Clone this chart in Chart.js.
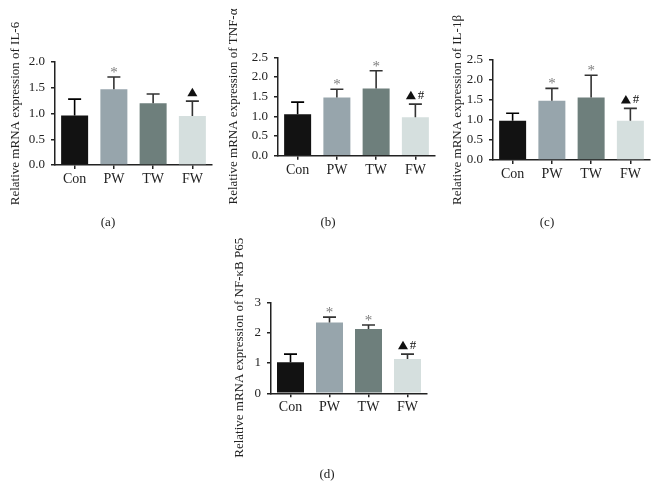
<!DOCTYPE html>
<html>
<head>
<meta charset="utf-8">
<script src="https://cdn.jsdelivr.net/npm/chart.js@4.4.1/dist/chart.umd.min.js"></script>
<style>
  body { margin: 0; background: #fff; width: 659px; height: 501px; position: relative; overflow: hidden; }
  canvas { position: absolute; }
  .tag { position: absolute; font: 13px "Liberation Serif", serif; color: #222; transform: translate(-50%, -50%); }
</style>
</head>
<body>
<canvas id="chartA"></canvas>
<canvas id="chartB"></canvas>
<canvas id="chartC"></canvas>
<canvas id="chartD"></canvas>
<div class="tag" style="left:108px;top:222px">(a)</div>
<div class="tag" style="left:328px;top:222px">(b)</div>
<div class="tag" style="left:547px;top:222px">(c)</div>
<div class="tag" style="left:327px;top:474px">(d)</div>
<script>
const categories = ['Con', 'PW', 'TW', 'FW'];

const il6Means = [0.96, 1.47, 1.20, 0.95];
const il6Sd = [0.32, 0.24, 0.18, 0.29];
const il6Marks = ['', '*', '', '▲'];
const il6Ticks = [0, 0.5, 1.0, 1.5, 2.0];

const tnfMeans = [1.05, 1.48, 1.71, 0.98];
const tnfSd = [0.31, 0.21, 0.45, 0.33];
const tnfMarks = ['', '*', '*', '▲#'];
const tnfTicks = [0, 0.5, 1.0, 1.5, 2.0, 2.5];

const il1bMeans = [0.98, 1.48, 1.56, 0.98];
const il1bSd = [0.19, 0.31, 0.56, 0.31];
const il1bMarks = ['', '*', '*', '▲#'];
const il1bTicks = [0, 0.5, 1.0, 1.5, 2.0, 2.5];

const nfkbMeans = [1.02, 2.33, 2.12, 1.13];
const nfkbSd = [0.27, 0.18, 0.13, 0.16];
const nfkbMarks = ['', '*', '*', '▲#'];
const nfkbTicks = [0, 1, 2, 3];

const barColors = ['#121212', '#97a5ac', '#6e7f7c', '#d5dfde'];
const errColors = ['#000000', '#333333', '#333333', '#333333'];
const inkColor = '#222222';
const serif = 'Liberation Serif';

const titleFont = { family: serif, size: 13 };
const halfTitle = (titleFont.size * 1.2) / 2;

const drawMark = (ctx, mark, x, top) => {
  if (!mark) return;
  if (mark === '*') {
    ctx.fillStyle = '#7d7d7d';
    ctx.font = `15px "${serif}"`;
    ctx.textAlign = 'center';
    ctx.textBaseline = 'alphabetic';
    ctx.fillText('*', x, top);
    return;
  }
  const hasHash = mark.includes('#');
  const cy = top - 9;
  const tx = hasHash ? x - 4.5 : x;
  ctx.fillStyle = '#111';
  ctx.beginPath();
  ctx.moveTo(tx, cy - 4.5);
  ctx.lineTo(tx + 5, cy + 4);
  ctx.lineTo(tx - 5, cy + 4);
  ctx.closePath();
  ctx.fill();
  if (hasHash) {
    ctx.font = `13px "${serif}"`;
    ctx.textAlign = 'center';
    ctx.textBaseline = 'middle';
    ctx.fillText('#', x + 5.5, cy);
  }
};

const errorBars = {
  id: 'errorBars',
  afterDatasetsDraw(chart, args, opts) {
    const { ctx } = chart;
    const yScale = chart.scales.y;
    const meta = chart.getDatasetMeta(0);
    const means = chart.data.datasets[0].data;
    meta.data.forEach((bar, i) => {
      const top = yScale.getPixelForValue(means[i] + opts.sd[i]);
      ctx.save();
      ctx.strokeStyle = errColors[i];
      ctx.lineWidth = 1.6;
      ctx.beginPath();
      ctx.moveTo(bar.x, bar.y);
      ctx.lineTo(bar.x, top);
      ctx.moveTo(bar.x - 6.5, top);
      ctx.lineTo(bar.x + 6.5, top);
      ctx.stroke();
      drawMark(ctx, opts.marks[i], bar.x, top);
      ctx.restore();
    });
  },
};

// chart-area edges in page pixels
const panels = [
  { id: 'chartA', title: 'Relative mRNA expression of IL-6', means: il6Means, sd: il6Sd, marks: il6Marks, ticks: il6Ticks, decimals: 1,
    left: 55, right: 212, top: 62, bottom: 165, titleX: 15.5 },
  { id: 'chartB', title: 'Relative mRNA expression of TNF-α', means: tnfMeans, sd: tnfSd, marks: tnfMarks, ticks: tnfTicks, decimals: 1,
    left: 278, right: 435, top: 57.3, bottom: 155.7, titleX: 234 },
  { id: 'chartC', title: 'Relative mRNA expression of IL-1β', means: il1bMeans, sd: il1bSd, marks: il1bMarks, ticks: il1bTicks, decimals: 1,
    left: 493, right: 650, top: 60, bottom: 160, titleX: 458 },
  { id: 'chartD', title: 'Relative mRNA expression of NF-κB P65', means: nfkbMeans, sd: nfkbSd, marks: nfkbMarks, ticks: nfkbTicks, decimals: 0,
    left: 271, right: 427, top: 302.3, bottom: 393.3, titleX: 240 },
];

const makePanel = (p) => {
  const canvas = document.getElementById(p.id);
  const scaleLeft = p.titleX - halfTitle;
  const canvasLeft = Math.floor(scaleLeft);
  const canvasTop = Math.max(0, Math.floor(p.top - 80));
  const width = Math.ceil(p.right + 8 - canvasLeft);
  const height = Math.ceil(p.bottom + 80 - canvasTop);
  canvas.style.left = `${canvasLeft}px`;
  canvas.style.top = `${canvasTop}px`;
  canvas.width = width;
  canvas.height = height;

  const catWidth = (p.right - p.left) / categories.length;
  const tickStep = p.ticks[1] - p.ticks[0];

  new Chart(canvas, {
    type: 'bar',
    data: {
      labels: categories,
      datasets: [{
        data: p.means,
        backgroundColor: barColors,
        borderWidth: 0,
        barPercentage: 27 / catWidth,
        categoryPercentage: 1,
      }],
    },
    options: {
      responsive: false,
      animation: false,
      devicePixelRatio: 1,
      layout: {
        padding: {
          left: scaleLeft - canvasLeft,
          top: p.top - canvasTop,
          right: canvasLeft + width - p.right,
          bottom: 0,
        },
      },
      plugins: {
        legend: { display: false },
        tooltip: { enabled: false },
        errorBars: { sd: p.sd, marks: p.marks },
      },
      scales: {
        x: {
          grid: { display: true, drawOnChartArea: false, offset: false, tickLength: 4, color: inkColor, lineWidth: 1.5 },
          border: { display: true, color: inkColor, width: 1.5 },
          ticks: { color: inkColor, font: { family: serif, size: 14 }, padding: 2, maxRotation: 0 },
          afterFit: (s) => { s.height = height - (p.bottom - canvasTop); },
        },
        y: {
          min: p.ticks[0],
          max: p.ticks[p.ticks.length - 1],
          grid: { display: true, drawOnChartArea: false, tickLength: 4, color: inkColor, lineWidth: 1.5 },
          border: { display: true, color: inkColor, width: 1.5 },
          ticks: {
            stepSize: tickStep,
            color: inkColor,
            font: { family: serif, size: 13 },
            padding: 6,
            callback: (v) => Number(v).toFixed(p.decimals),
          },
          title: { display: true, text: p.title, color: inkColor, font: titleFont, padding: 0 },
          afterFit: (s) => { s.width = p.left - scaleLeft; },
        },
      },
    },
    plugins: [errorBars],
  });
};

panels.forEach(makePanel);
</script>
</body>
</html>
